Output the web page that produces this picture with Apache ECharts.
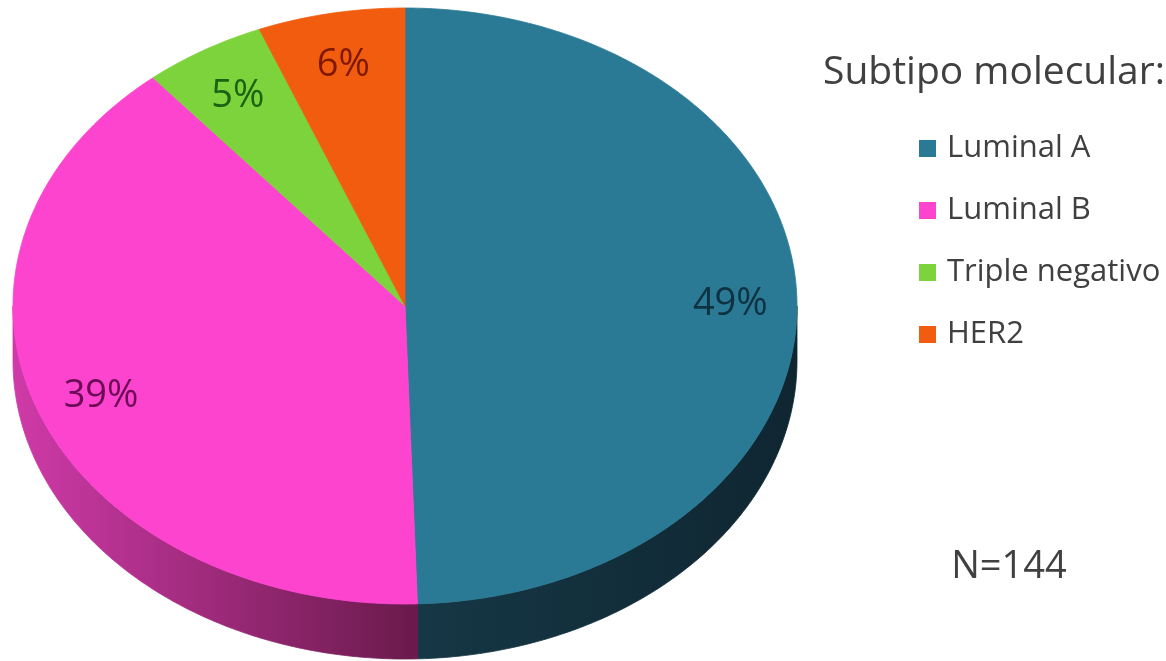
<!DOCTYPE html>
<html><head><meta charset="utf-8">
<script src="https://cdn.jsdelivr.net/npm/echarts@6/dist/echarts.min.js"></script>
<style>html,body{margin:0;padding:0;background:#fff}#c{width:1166px;height:661px}</style>
</head><body><div id="c"></div>
<script>
// ---- data ----
const categories = ['Luminal A', 'Luminal B', 'Triple negativo', 'HER2'];
const percents = [49, 39, 5, 6];
const legendTitle = 'Subtipo molecular:';
const sampleNote = 'N=144';

// ---- styles ----
const topColors = ['#2b7a95', '#fd44cf', '#7dd33c', '#f25c0e'];
const labelColors = ['#0e3242', '#6c0c56', '#1c6212', '#7e1800'];
const sideStops = [
  [{offset: 0, color: '#163746'}, {offset: 1, color: '#0f2631'}],
  [{offset: 0, color: '#cf3aa8'}, {offset: 1, color: '#6a1a4c'}],
  [{offset: 0, color: '#4f8f22'}, {offset: 1, color: '#4f8f22'}],
  [{offset: 0, color: '#9a3a08'}, {offset: 1, color: '#9a3a08'}]
];
const FONT = '"Open Sans", "Liberation Sans", sans-serif';
const PIE = {cx: 405, cy: 306, rx: 392, ry: 298, depth: 55, labelR: 0.83};

const total = percents.reduce((a, b) => a + b, 0);
let acc = 0;
const sliceData = percents.map((v, i) => {
  const s = acc / total; acc += v;
  return {name: categories[i], value: [s, acc / total, v]};
});

function pt(theta, f, dy) {
  return [PIE.cx + PIE.rx * f * Math.sin(theta), PIE.cy - PIE.ry * f * Math.cos(theta) + (dy || 0)];
}
function arc(t0, t1, dy) {
  const pts = [];
  const n = Math.max(2, Math.ceil((t1 - t0) / 0.01));
  for (let k = 0; k <= n; k++) pts.push(pt(t0 + (t1 - t0) * k / n, 1, dy));
  return pts;
}

function renderItem(params, api) {
  const i = params.dataIndex;
  const t0 = api.value(0) * 2 * Math.PI, t1 = api.value(1) * 2 * Math.PI;
  const children = [];
  const a = Math.max(t0, Math.PI / 2), b = Math.min(t1, 1.5 * Math.PI);
  if (b > a) {
    const top = arc(a, b, 0), bottom = arc(a, b, PIE.depth).reverse();
    const p0 = pt(a, 1), p1 = pt(b, 1);
    const grad = {type: 'linear', x: Math.min(p0[0], p1[0]), y: 0, x2: Math.max(p0[0], p1[0]), y2: 0,
      global: true, colorStops: i === 1 ? sideStops[i] : sideStops[i].slice().reverse()};
    children.push({type: 'polygon', shape: {points: top.concat(bottom)},
      style: {fill: grad, stroke: grad, lineWidth: 0.8}});
  }
  const face = [[PIE.cx, PIE.cy]].concat(arc(t0, t1, 0));
  children.push({type: 'polygon', shape: {points: face},
    style: {fill: topColors[i], stroke: topColors[i], lineWidth: 0.8}});
  const lp = pt((t0 + t1) / 2, PIE.labelR);
  children.push({type: 'text', style: {x: lp[0], y: lp[1] + 2, text: api.value(2) + '%',
    fill: labelColors[i], fontSize: 38, fontFamily: FONT, align: 'center', verticalAlign: 'middle'}});
  return {type: 'group', children};
}

const chart = echarts.init(document.getElementById('c'), null, {renderer: 'canvas'});
chart.setOption({
  animation: false,
  backgroundColor: '#ffffff',
  legend: {
    data: categories, orient: 'vertical', left: 914, top: 128,
    itemWidth: 17, itemHeight: 17, itemGap: 31, icon: 'rect', selectedMode: false,
    textStyle: {fontFamily: FONT, fontSize: 31, color: '#404040', lineHeight: 30, padding: [0, 0, 0, 6]}
  },
  graphic: [
    {type: 'text', style: {x: 823, y: 73, text: legendTitle, fontSize: 39, fontFamily: FONT,
      fill: '#404040', align: 'left', verticalAlign: 'middle'}},
    {type: 'text', style: {x: 1009, y: 567, text: sampleNote, fontSize: 38, fontFamily: FONT,
      fill: '#404040', align: 'center', verticalAlign: 'middle'}}
  ],
  series: [
    {type: 'custom', name: 'Subtipo', coordinateSystem: 'none', renderItem: renderItem, data: sliceData, silent: true},
    {type: 'pie', name: 'legend', center: [-500, -500], radius: 1, silent: true,
      label: {show: false}, labelLine: {show: false},
      data: percents.map((v, i) => ({name: categories[i], value: v, itemStyle: {color: topColors[i]}}))}
  ]
});
</script></body></html>
